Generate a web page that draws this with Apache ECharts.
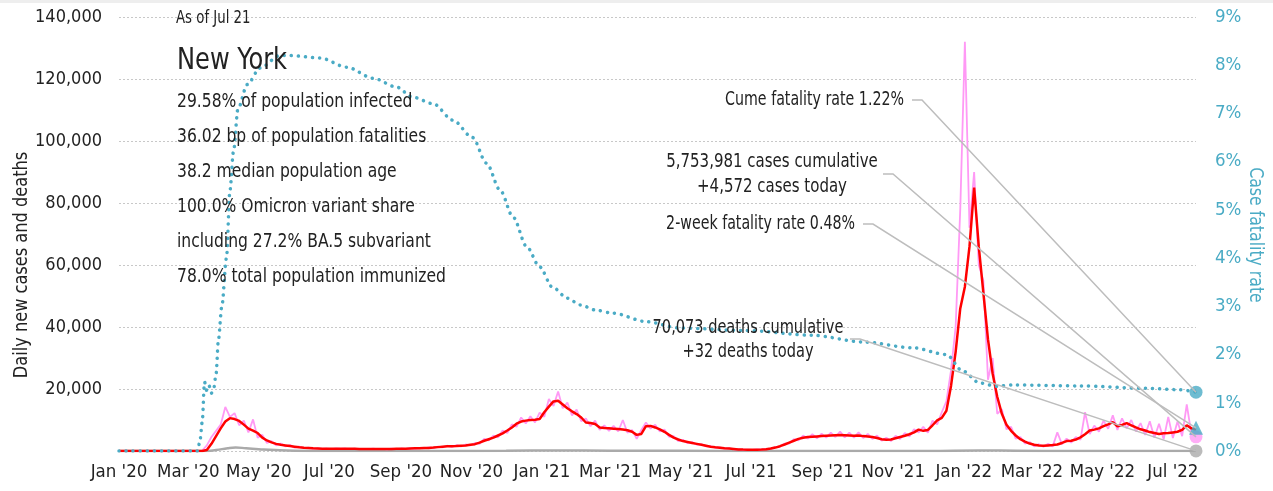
<!DOCTYPE html>
<html>
<head>
<meta charset="utf-8">
<script src="https://cdn.jsdelivr.net/npm/echarts@6/dist/echarts.min.js"></script>
<style>
  html, body { margin: 0; padding: 0; background: #fff; }
  #chart { width: 1273px; height: 491px; }
</style>
</head>
<body>
<div id="chart"></div>
<script>
// 数据：每4天一个采样点，从 2020-01-01 开始
const START = [2020, 0, 1];
const STEP_DAYS = 4;

const dailyCases = [
  0, 0, 0, 0, 0, 0, 0, 0, 0, 0,
  0, 0, 0, 0, 0, 0, 0, 0, 150, 1800,
  4500, 6500, 8500, 14200, 11000, 12200, 8300, 9800, 6000, 10200,
  4300, 5200, 2600, 3200, 1800, 2400, 1500, 1900, 1100, 1400,
  900, 1100, 700, 900, 650, 800, 600, 850, 650, 800,
  600, 750, 600, 700, 580, 720, 600, 700, 560, 760,
  620, 800, 650, 900, 700, 1000, 850, 1150, 950, 1400,
  1200, 1700, 1300, 1900, 1500, 2100, 1800, 2600, 2300, 3900,
  3400, 5000, 4400, 6600, 5800, 8600, 7800, 10800, 8900, 11200,
  9200, 12400, 11000, 16800, 14500, 19200, 13800, 15600, 11500, 13400,
  9600, 10500, 8000, 9800, 6800, 8300, 6500, 8100, 6300, 10000,
  5900, 6800, 3900, 6800, 9200, 7200, 8500, 6300, 6900, 4600,
  4800, 3200, 3600, 2500, 2900, 2000, 2200, 1500, 1600, 1050,
  1200, 800, 900, 560, 600, 400, 460, 350, 480, 420,
  680, 700, 1300, 1400, 2400, 2400, 3800, 3400, 5000, 4000,
  5400, 4100, 5600, 4300, 5900, 4500, 6300, 4400, 5900, 4300,
  6000, 4200, 5500, 3900, 5000, 3300, 4300, 3200, 4900, 3900,
  5800, 4700, 7000, 6000, 7800, 5900, 9800, 8600, 12500, 16000,
  26000, 40000, 78000, 132000, 72000, 90000, 60000, 55000, 23000, 30000,
  12000, 13500, 7000, 7800, 4000, 4500, 2400, 2900, 1500, 2200,
  1400, 2300, 1500, 6000, 2200, 4000, 2700, 4500, 3600, 12500,
  5500, 8200, 6200, 9800, 7200, 11500, 6800, 10500, 7300, 10000,
  6300, 9000, 5200, 9600, 4300, 8800, 3800, 11000, 4200, 9500,
  4800, 15000, 5500, 4572
];

const avgCases = [
  0, 0, 0, 0, 0, 0, 0, 0, 0, 0,
  0, 0, 0, 0, 0, 0, 0, 0, 0, 300,
  2300, 4800, 7300, 9500, 10600, 10300, 9700, 8500, 7200, 6600,
  5800, 4300, 3400, 2800, 2300, 2000, 1800, 1600, 1400, 1200,
  1050, 950, 850, 800, 750, 700, 700, 700, 700, 720,
  720, 700, 680, 660, 650, 650, 650, 660, 660, 680,
  700, 720, 750, 800, 850, 900, 950, 1000, 1100, 1250,
  1400, 1500, 1550, 1600, 1700, 1800, 2000, 2200, 2700, 3300,
  3800, 4300, 5000, 5700, 6600, 7600, 8800, 9500, 9800, 10000,
  10100, 10300, 12500, 14300, 16000, 16200, 15000, 13800, 12800, 11900,
  10800, 9200, 9000, 8700, 7600, 7400, 7300, 7200, 7100, 6900,
  6700, 6200, 5200, 5500, 8000, 8100, 7600, 7000, 6200, 5200,
  4300, 3700, 3200, 2900, 2600, 2300, 2000, 1700, 1400, 1200,
  1050, 900, 780, 650, 520, 450, 400, 400, 420, 480,
  580, 780, 1100, 1550, 2100, 2700, 3300, 3900, 4300, 4500,
  4600, 4700, 4800, 4900, 5000, 5100, 5200, 5100, 5000, 4900,
  5000, 4800, 4700, 4500, 4200, 3800, 3600, 3700, 4100, 4500,
  4900, 5400, 6000, 6900, 6500, 6800, 8300, 9900, 10700, 13000,
  21000, 32000, 46000, 53000, 66000, 85000, 66000, 51000, 36000, 25000,
  17500, 12000, 8500, 6500, 5000, 3800, 3000, 2400, 2000, 1800,
  1700, 1800, 1900, 2100, 2600, 3200, 3300, 3700, 4400, 5400,
  6600, 6900, 7300, 8000, 8600, 9300, 8000, 8400, 9000, 8300,
  7600, 7000, 6600, 6100, 5800, 5500, 5700, 5800, 6000, 6200,
  6800, 8300, 7300, 6800
];

const deathDates = ['2020-01-01', '2020-03-14', '2020-03-25', '2020-04-04', '2020-04-11', '2020-04-20',
  '2020-05-01', '2020-05-15', '2020-06-01', '2020-07-01', '2020-10-01', '2020-12-01', '2021-01-15',
  '2021-03-01', '2021-05-01', '2021-07-01', '2021-09-01', '2021-12-01', '2022-01-15', '2022-02-15',
  '2022-04-01', '2022-07-21'];
const deathValues = [0, 0, 300, 900, 1100, 900, 600, 300, 100, 30, 20, 80, 170, 120, 60, 10, 35, 40, 180, 80, 20, 32];

const cfrDates = ['2020-01-01', '2020-03-09', '2020-03-11', '2020-03-13', '2020-03-15', '2020-03-17',
  '2020-03-19', '2020-03-21', '2020-03-23', '2020-03-25', '2020-03-27', '2020-03-30', '2020-04-03',
  '2020-04-06', '2020-04-09', '2020-04-13', '2020-04-21', '2020-05-02', '2020-05-19', '2020-05-28',
  '2020-06-23', '2020-07-16', '2020-08-08', '2020-08-28', '2020-09-11', '2020-09-29', '2020-10-16',
  '2020-11-02', '2020-11-14', '2020-11-26', '2020-12-07', '2020-12-19', '2020-12-30', '2021-01-10',
  '2021-01-23', '2021-02-03', '2021-02-17', '2021-03-03', '2021-04-02', '2021-04-30', '2021-06-27',
  '2021-08-23', '2021-10-06', '2021-11-18', '2021-12-17', '2021-12-31', '2022-01-15', '2022-01-30',
  '2022-02-12', '2022-04-11', '2022-06-08', '2022-07-07', '2022-07-21'];
const cfrValues = [0, 0, 0.2, 0.6, 1.43, 1.25, 1.35, 1.2, 1.3, 1.6, 2.3, 3.0, 4.0,
  5.4, 6.2, 7.1, 7.6, 7.94, 8.2, 8.2, 8.15, 7.96, 7.73, 7.55, 7.34, 7.2, 6.86,
  6.5, 5.97, 5.4, 4.85, 4.23, 3.82, 3.4, 3.17, 3.03, 2.92, 2.86, 2.68, 2.55, 2.5,
  2.4, 2.26, 2.14, 2.0, 1.66, 1.41, 1.34, 1.37, 1.35, 1.3, 1.27, 1.22];
const twoWeekRate = 0.48;

const tickMonths = [[2020, 0], [2020, 2], [2020, 4], [2020, 6], [2020, 8], [2020, 10],
  [2021, 0], [2021, 2], [2021, 4], [2021, 6], [2021, 8], [2021, 10],
  [2022, 0], [2022, 2], [2022, 4], [2022, 6]];
const tickLabels = ["Jan '20", "Mar '20", "May '20", "Jul '20", "Sep '20", "Nov '20",
  "Jan '21", "Mar '21", "May '21", "Jul '21", "Sep '21", "Nov '21",
  "Jan '22", "Mar '22", "May '22", "Jul '22"];

const asOfText = 'As of Jul 21';
const titleText = 'New York';
const infoLines = ['29.58% of population infected', '36.02 bp of population fatalities',
  '38.2 median population age', '100.0% Omicron variant share',
  'including 27.2% BA.5 subvariant', '78.0% total population immunized'];
const cumeText = 'Cume fatality rate 1.22%';
const casesText = ['5,753,981 cases cumulative', '+4,572 cases today'];
const twoWeekText = '2-week fatality rate 0.48%';
const deathsText = ['70,073 deaths cumulative', '+32 deaths today'];
const leftAxisTitle = 'Daily new cases and deaths';
const rightAxisTitle = 'Case fatality rate';

const FONT = '"DejaVu Sans Condensed", "DejaVu Sans", sans-serif';
const TEAL = '#4aabc5';
const TEXT = '#222';

function toTime(s) {
  const p = s.split('-').map(Number);
  return new Date(p[0], p[1] - 1, p[2]).getTime();
}
const sampleDates = dailyCases.map((_, i) => new Date(START[0], START[1], START[2] + i * STEP_DAYS).getTime());
const tickTimes = tickMonths.map(m => new Date(m[0], m[1], 1).getTime());
const startTime = new Date(2020, 0, 1).getTime();
const endTime = new Date(2022, 6, 21).getTime();
const lastI = sampleDates.length - 1;

const option = {
  animation: false,
  grid: { left: 119, right: 77, top: 17, bottom: 40, outerBoundsMode: 'none', containLabel: false },
  xAxis: {
    type: 'value',
    min: startTime,
    max: endTime,
    axisLine: { show: false },
    axisTick: { show: false },
    splitLine: { show: false },
    axisLabel: {
      customValues: tickTimes,
      formatter: v => tickLabels[tickTimes.indexOf(v)] || '',
      color: TEXT, fontFamily: FONT, fontSize: 18.5, margin: 12,
      showMinLabel: true, showMaxLabel: true, hideOverlap: false
    }
  },
  yAxis: [{
    type: 'value', min: 0, max: 140000, interval: 20000,
    axisLine: { show: false }, axisTick: { show: false },
    axisLabel: {
      color: TEXT, fontFamily: FONT, fontSize: 18, margin: 17,
      formatter: v => v === 0 ? '' : v.toLocaleString('en-US')
    },
    splitLine: { lineStyle: { color: '#c8c8c8', type: [2, 2], width: 1 } }
  }, {
    type: 'value', min: 0, max: 9, interval: 1,
    axisLine: { show: false }, axisTick: { show: false },
    axisLabel: { color: TEAL, fontFamily: FONT, fontSize: 18.5, margin: 19, formatter: v => v + '%' },
    splitLine: { show: false }
  }],
  series: [{
    name: 'deaths', type: 'line', yAxisIndex: 0, showSymbol: false, smooth: true,
    data: deathDates.map((d, i) => [toTime(d), deathValues[i]]),
    lineStyle: { color: '#aaaaaa', width: 2.5 }, z: 2
  }, {
    name: 'daily', type: 'line', yAxisIndex: 0, showSymbol: false,
    data: sampleDates.map((t, i) => [t, dailyCases[i]]),
    lineStyle: { color: '#ff99f5', width: 1.8 }, z: 3
  }, {
    name: 'avg', type: 'line', yAxisIndex: 0, showSymbol: false,
    data: sampleDates.map((t, i) => [t, avgCases[i]]),
    lineStyle: { color: '#ff0000', width: 2.5 }, z: 4
  }, {
    name: 'cfr', type: 'line', yAxisIndex: 1, showSymbol: false, smooth: 0.3, smoothMonotone: 'x',
    data: cfrDates.map((d, i) => [toTime(d), cfrValues[i]]),
    lineStyle: { color: TEAL, width: 3.5, type: [0.1, 7], cap: 'round' }, z: 5
  }, {
    name: 'endDeaths', type: 'scatter', yAxisIndex: 0, symbolSize: 13,
    data: [[endTime, deathValues[deathValues.length - 1]]], itemStyle: { color: '#aaaaaa' }, z: 6
  }, {
    name: 'endCases', type: 'scatter', yAxisIndex: 0, symbolSize: 13,
    data: [[sampleDates[lastI], dailyCases[lastI]]], itemStyle: { color: '#ff99f5' }, z: 6
  }, {
    name: 'endTwoWeek', type: 'scatter', yAxisIndex: 1, symbol: 'triangle', symbolSize: 14,
    data: [[endTime, twoWeekRate]], itemStyle: { color: TEAL }, z: 7
  }, {
    name: 'endCfr', type: 'scatter', yAxisIndex: 1, symbolSize: 13,
    data: [[endTime, cfrValues[cfrValues.length - 1]]], itemStyle: { color: TEAL }, z: 7
  }]
};

const chart = echarts.init(document.getElementById('chart'));
chart.setOption(option);

// 文本：用 scaleX 模拟原图的窄体字
function txt(text, x, y, size, align, sx, color, rotation) {
  return {
    type: 'text', z: 100, x, y, scaleX: sx || 1, rotation: rotation || 0,
    style: { text, x: 0, y: 0, fontFamily: FONT, fontSize: size, fill: color || TEXT, align: align || 'left', verticalAlign: 'middle' }
  };
}
function leader(x, y, seriesIndex, point) {
  const p = chart.convertToPixel({ seriesIndex }, point);
  return {
    type: 'polyline', z: 90,
    shape: { points: [[x, y], [x + 10, y], p] },
    style: { stroke: '#bdbdbd', lineWidth: 1.5, fill: null }
  };
}

const graphics = [
  { type: 'rect', shape: { x: 0, y: 0, width: 1273, height: 3 }, style: { fill: '#eeeeee' } },
  txt(asOfText, 176, 19, 17, 'left', 0.87),
  txt(titleText, 177, 61, 31, 'left', 0.865),
  ...infoLines.map((l, i) => txt(l, 177, 102 + i * 35, 20, 'left', 0.865)),
  txt(cumeText, 904, 100, 19.5, 'right', 0.81),
  txt(casesText[0], 772, 162, 19.5, 'center', 0.855),
  txt(casesText[1], 772, 187, 19.5, 'center', 0.855),
  txt(twoWeekText, 855, 224, 19.5, 'right', 0.81),
  txt(deathsText[0], 748, 328, 19.5, 'center', 0.83),
  txt(deathsText[1], 748, 352, 19.5, 'center', 0.83),
  txt(leftAxisTitle, 22, 265, 20, 'center', 0.9, TEXT, Math.PI / 2),
  txt(rightAxisTitle, 1255, 235, 19, 'center', 0.92, TEAL, -Math.PI / 2),
  leader(912, 100, 7, [endTime, cfrValues[cfrValues.length - 1]]),
  leader(883, 174, 5, [sampleDates[lastI], dailyCases[lastI]]),
  leader(863, 224, 6, [endTime, twoWeekRate]),
  leader(850, 339, 4, [endTime, deathValues[deathValues.length - 1]])
];
chart.setOption({ graphic: graphics });
</script>
</body>
</html>
